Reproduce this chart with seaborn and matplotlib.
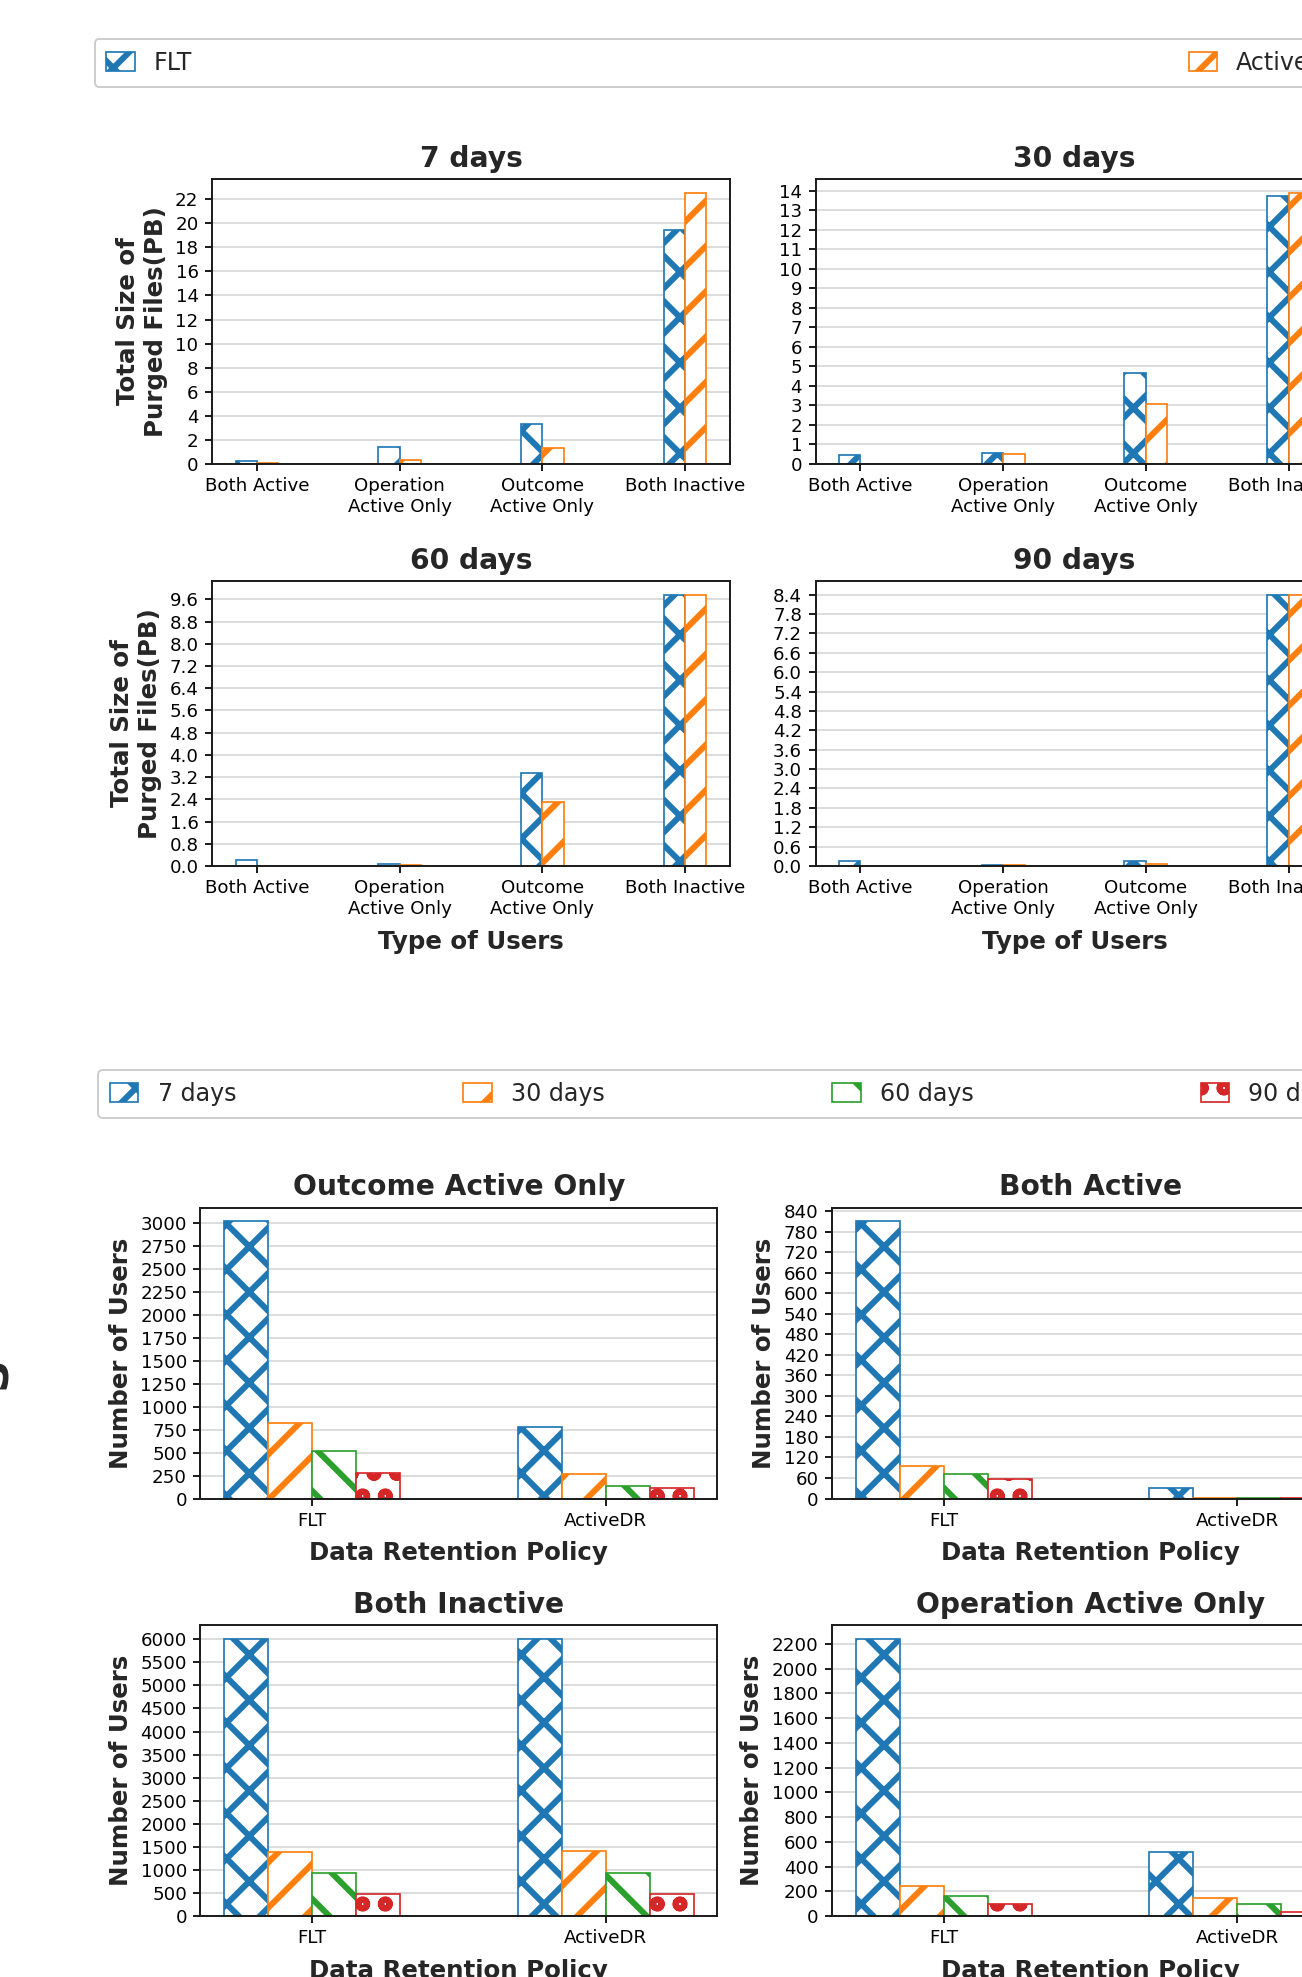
import matplotlib
matplotlib.use("Agg")
import matplotlib.pyplot as plt
from matplotlib.patches import Patch
from matplotlib.ticker import MultipleLocator
import pandas as pd
import seaborn as sns

# ---------------- data ----------------
user_types = ["Both Active", "Operation\nActive Only", "Outcome\nActive Only", "Both Inactive"]
policies = ["FLT", "ActiveDR"]
periods = ["7 days", "30 days", "60 days", "90 days"]

# Total size of purged files (PB), per user type
size_flt_7 = [0.28, 1.4, 3.35, 19.4]
size_adr_7 = [0.05, 0.3, 1.3, 22.55]
size_flt_30 = [0.48, 0.54, 4.68, 13.75]
size_adr_30 = [0.02, 0.49, 3.09, 13.9]
size_flt_60 = [0.2, 0.08, 3.36, 9.77]
size_adr_60 = [0.01, 0.02, 2.3, 9.77]
size_flt_90 = [0.17, 0.03, 0.17, 8.4]
size_adr_90 = [0.01, 0.02, 0.07, 8.4]

# Number of users, per period (7, 30, 60, 90 days)
users_outcome_flt = [3015, 819, 522, 279]
users_outcome_adr = [779, 264, 141, 116]
users_bothactive_flt = [811, 95, 72, 58]
users_bothactive_adr = [31, 1, 1, 1]
users_bothinactive_flt = [6010, 1395, 940, 484]
users_bothinactive_adr = [6010, 1410, 940, 484]
users_operation_flt = [2240, 240, 162, 97]
users_operation_adr = [517, 148, 94, 35]

# ---------------- style ----------------
DPI = 136
W, H = 1302, 1977
C_BLUE, C_ORANGE, C_GREEN, C_RED = "#1f77b4", "#ff7f0e", "#2ca02c", "#d62728"
policy_colors = [C_BLUE, C_ORANGE]
policy_hatches = ["x", "/"]
period_colors = [C_BLUE, C_ORANGE, C_GREEN, C_RED]
period_hatches = ["x", "/", "\\", "o"]

LW = 1.03
sns.set_theme(style="ticks")
plt.rcParams.update({
    "font.family": ["DejaVu Sans"],
    "hatch.linewidth": 3.2,
    "axes.edgecolor": "#1a1a1a",
    "axes.linewidth": LW,
    "xtick.color": "#1a1a1a",
    "ytick.color": "#1a1a1a",
    "xtick.labelcolor": "black",
    "ytick.labelcolor": "black",
})

TICK_FS = 9.65
TITLE_FS = 14.9
LABEL_FS = 13.0
LEGEND_FS = 12.6


def style_bars(ax, colors, hatches):
    for cont, c, h in zip(ax.containers, colors, hatches):
        for p in cont.patches:
            p.set_facecolor("white")
            p.set_edgecolor(c)
            p.set_hatch(h)
            p.set_linewidth(0.9)
            p.set_zorder(2)


def finish_axes(ax, title, step):
    ax.set_title(title, fontsize=TITLE_FS, fontweight="bold", pad=6.4)
    ax.yaxis.set_major_locator(MultipleLocator(step))
    ax.yaxis.grid(True, color="#dcdcdc", linewidth=LW)
    ax.xaxis.grid(False)
    ax.set_axisbelow(True)
    ax.tick_params(labelsize=TICK_FS, length=3.9, width=LW, pad=3.2)
    for s in ax.spines.values():
        s.set_visible(True)
        s.set_color("#1a1a1a")
        s.set_linewidth(LW)


def draw_size(ax, flt, adr, title, step, ylabel, xlabel):
    df = pd.DataFrame({
        "Type of Users": user_types * 2,
        "Policy": [policies[0]] * len(user_types) + [policies[1]] * len(user_types),
        "Size": flt + adr,
    })
    sns.barplot(data=df, x="Type of Users", y="Size", hue="Policy",
                order=user_types, hue_order=policies, palette=policy_colors,
                width=0.3, errorbar=None, legend=False, ax=ax)
    style_bars(ax, policy_colors, policy_hatches)
    ax.set_xlim(-0.315, 3.315)
    finish_axes(ax, title, step)
    ax.set_ylabel("Total Size of\nPurged Files(PB)" if ylabel else "",
                  fontsize=LABEL_FS, fontweight="bold")
    ax.set_xlabel("Type of Users" if xlabel else "", fontsize=LABEL_FS,
                  fontweight="bold", labelpad=6.5)


def draw_users(ax, flt, adr, title, step):
    df = pd.DataFrame({
        "Data Retention Policy": [policies[0]] * len(periods) + [policies[1]] * len(periods),
        "Period": periods * 2,
        "Users": flt + adr,
    })
    sns.barplot(data=df, x="Data Retention Policy", y="Users", hue="Period",
                order=policies, hue_order=periods, palette=period_colors,
                width=0.6, errorbar=None, legend=False, ax=ax)
    style_bars(ax, period_colors, period_hatches)
    ax.set_xlim(-0.38, 1.38)
    finish_axes(ax, title, step)
    ax.set_ylabel("Number of Users", fontsize=LABEL_FS, fontweight="bold")
    ax.set_xlabel("Data Retention Policy", fontsize=LABEL_FS, fontweight="bold",
                  labelpad=6)


fig = plt.figure(figsize=(W / DPI, H / DPI), dpi=DPI)
fig.patch.set_facecolor("white")


def add_ax(left_px, top_px, w_px, h_px):
    return fig.add_axes([left_px / W, 1 - (top_px + h_px) / H, w_px / W, h_px / H])


# top block (purged size)
ax7 = add_ax(212, 179, 518, 285)
ax30 = add_ax(815.5, 179, 518, 285)
ax60 = add_ax(212, 581, 518, 285)
ax90 = add_ax(815.5, 581, 518, 285)

draw_size(ax7, size_flt_7, size_adr_7, "7 days", 2, True, False)
draw_size(ax30, size_flt_30, size_adr_30, "30 days", 1, False, False)
draw_size(ax60, size_flt_60, size_adr_60, "60 days", 0.8, True, True)
draw_size(ax90, size_flt_90, size_adr_90, "90 days", 0.6, False, True)

# bottom block (number of users)
axo = add_ax(200.4, 1207.5, 517, 291)
axb = add_ax(832, 1207.5, 517, 291)
axi = add_ax(200.4, 1625, 517, 291)
axp = add_ax(832, 1625, 517, 291)

draw_users(axo, users_outcome_flt, users_outcome_adr, "Outcome Active Only", 250)
draw_users(axb, users_bothactive_flt, users_bothactive_adr, "Both Active", 60)
draw_users(axi, users_bothinactive_flt, users_bothinactive_adr, "Both Inactive", 500)
draw_users(axp, users_operation_flt, users_operation_adr, "Operation Active Only", 200)

# legends
h_top = [Patch(facecolor="white", edgecolor=c, hatch=h, linewidth=0.9)
         for c, h in zip(policy_colors, policy_hatches)]
fig.legend(handles=h_top, labels=policies, loc="upper left",
           bbox_to_anchor=(94.5 / W, 1 - 39 / H, 1262 / W, 0), mode="expand",
           ncol=2, fontsize=LEGEND_FS, handlelength=1.2, handleheight=0.85,
           borderpad=0.5, borderaxespad=0, frameon=True, fancybox=True,
           edgecolor="#cccccc", framealpha=1)

h_bot = [Patch(facecolor="white", edgecolor=c, hatch=h, linewidth=0.9)
         for c, h in zip(period_colors, period_hatches)]
fig.legend(handles=h_bot, labels=periods, loc="upper left",
           bbox_to_anchor=(98 / W, 1 - 1070 / H, 1256 / W, 0), mode="expand",
           ncol=4, fontsize=LEGEND_FS, handlelength=1.2, handleheight=0.85,
           borderpad=0.5, borderaxespad=0, frameon=True, fancybox=True,
           edgecolor="#cccccc", framealpha=1)

# fragment of a clipped label at the left edge
fig.text(15 / W, 1 - 1373 / H, "S", rotation=90, ha="right", va="center",
         fontsize=24, fontweight="bold")

fig.savefig("out.png", dpi=DPI, facecolor="white")
